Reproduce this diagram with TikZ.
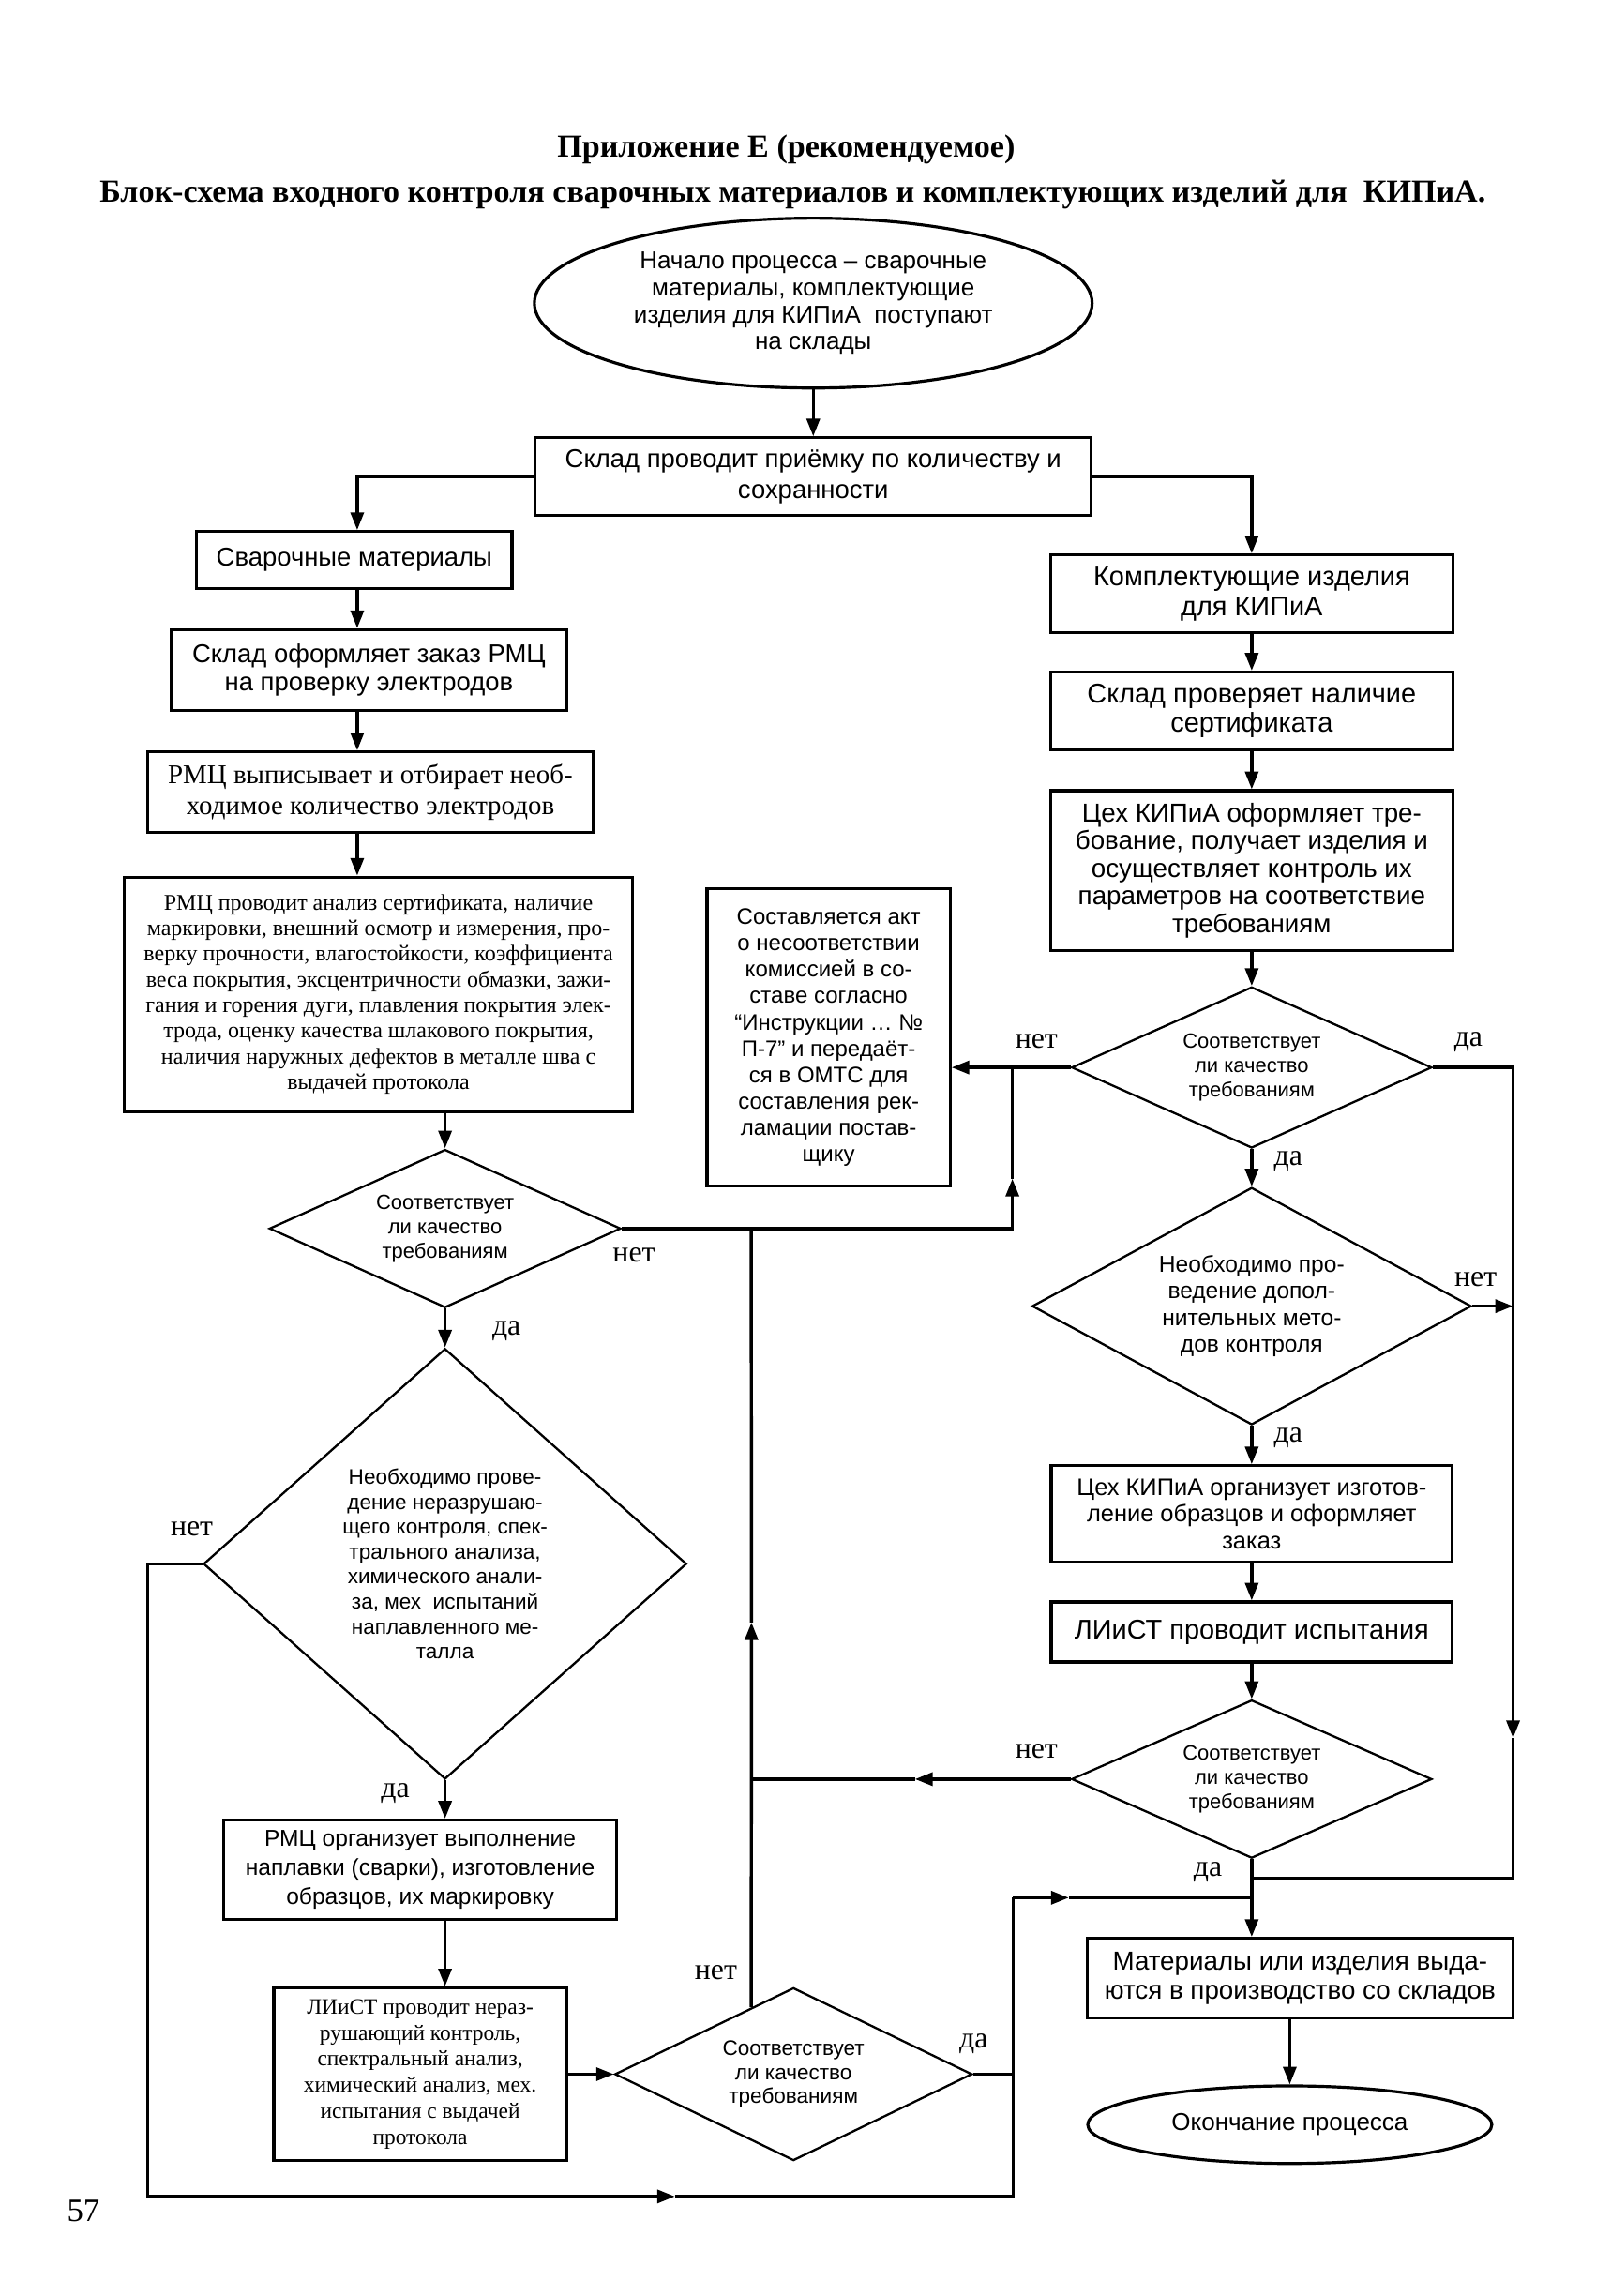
\documentclass[tikz,border=0pt]{standalone}
\usepackage{fontspec}
\setmainfont{Liberation Serif}
\newfontfamily\arialf{Liberation Sans}
\usetikzlibrary{arrows.meta,shapes.geometric,calc}
\newlength\uu
\setlength\uu{0.54pt}
\begin{document}
\begin{tikzpicture}[x=0.54pt,y=-0.54pt,
  conn/.style={line width=1.2pt},
  arr/.style={-{Triangle[length=6.5pt,width=4.8pt]}},
  box/.style={draw,line width=1.1pt,rectangle,inner sep=0pt,align=center},
  dia/.style={draw,line width=0.8pt,diamond,inner sep=0pt},
  oval/.style={draw,line width=1.1pt,ellipse,inner sep=0pt,align=center},
  sf/.style 2 args={font=\arialf\fontsize{#1}{#2}\selectfont},
  rm/.style 2 args={font=\fontsize{#1}{#2}\selectfont},
  txt/.style={align=center,inner sep=0pt},
  lbl/.style={font=\fontsize{11}{12}\selectfont,inner sep=0pt},
  ttl/.style={font=\bfseries\fontsize{11.8}{14}\selectfont,inner sep=0pt}]
\fill[white] (0,0) rectangle (1100,1568);
\useasboundingbox (0,0) rectangle (1100,1568);

% titles
\node[ttl] (t1) at (537,102) {Приложение Е (рекомендуемое)};
\node[ttl] (t2) at (541.5,133) {Блок-схема входного контроля сварочных материалов и комплектующих изделий для\ \ КИПиА.};

% top
\node[oval,minimum width=381*\uu,minimum height=116*\uu,sf={9}{10}] (S) at (555.5,207)
  {Начало процесса – сварочные\\материалы, комплектующие\\изделия для КИПиА\ \ поступают\\на склады};
\node[box,minimum width=380*\uu,minimum height=53*\uu,sf={9.5}{11.5}] (A) at (555.5,325.5)
  {Склад проводит приёмку по количеству и\\сохранности};

% left column
\node[box,minimum width=215.5*\uu,minimum height=39*\uu,sf={9.5}{11}] (B) at (242,382.5) {Сварочные материалы};
\node[box,minimum width=270*\uu,minimum height=55*\uu,sf={9.5}{10.5}] (C) at (252,457.5)
  {Склад оформляет заказ РМЦ\\на проверку электродов};
\node[box,minimum width=304*\uu,minimum height=55*\uu,rm={10}{11.5}] (D) at (253,541)
  {РМЦ выписывает и отбирает необ-\\ходимое количество электродов};
\node[box,minimum width=347*\uu,minimum height=160*\uu,rm={8.3}{9.45}] (E) at (258.5,679)
  {РМЦ проводит анализ сертификата, наличие\\маркировки, внешний осмотр и измерения, про-\\верку прочности, влагостойкости, коэффициента\\веса покрытия, эксцентричности обмазки, зажи-\\гания и горения дуги, плавления покрытия элек-\\трода, оценку качества шлакового покрытия,\\наличия наружных дефектов в металле шва с\\выдачей протокола};
\node[dia,minimum width=240*\uu,minimum height=108*\uu] (F) at (304,839) {};
\node[txt,sf={7.6}{8.9}] (Ft) at (F.center) {Соответствует\\ли качество\\требованиям};
\node[dia,minimum width=330*\uu,minimum height=294*\uu] (H) at (304,1068) {};
\node[txt,sf={7.8}{9.2}] (Ht) at (H.center) {Необходимо прове-\\дение неразрушаю-\\щего контроля, спек-\\трального анализа,\\химического анали-\\за, мех\ \ испытаний\\наплавленного ме-\\талла};
\node[box,minimum width=268*\uu,minimum height=68*\uu,sf={8.5}{10.8}] (M) at (287,1277)
  {РМЦ организует выполнение\\наплавки (сварки), изготовление\\образцов, их маркировку};
\node[box,minimum width=200*\uu,minimum height=118*\uu,rm={8.1}{9.6}] (N1) at (287,1416.5)
  {ЛИиСТ проводит нераз-\\рушающий контроль,\\спектральный анализ,\\химический анализ, мех.\\испытания с выдачей\\протокола};
\node[dia,minimum width=244*\uu,minimum height=118*\uu] (N) at (542,1416.5) {};
\node[txt,sf={7.8}{8.9}] (Nt) at (N.center) {Соответствует\\ли качество\\требованиям};

% middle box
\node[box,minimum width=166*\uu,minimum height=203*\uu,sf={8.3}{9.7}] (G) at (566,708.5)
  {Составляется акт\\о несоответствии\\комиссией в со-\\ставе согласно\\“Инструкции … №\\П-7” и передаёт-\\ся в ОМТС для\\составления рек-\\ламации постав-\\щику};

% right column
\node[box,minimum width=275*\uu,minimum height=53*\uu,sf={10}{11}] (I) at (855,405.5)
  {Комплектующие изделия\\для КИПиА};
\node[box,minimum width=275*\uu,minimum height=53*\uu,sf={10}{11}] (J) at (855,485.5)
  {Склад проверяет наличие\\сертификата};
\node[box,minimum width=275*\uu,minimum height=109*\uu,sf={9.6}{10.2}] (K1) at (855,594.5)
  {Цех КИПиА оформляет тре-\\бование, получает изделия и\\осуществляет контроль их\\параметров на соответствие\\требованиям};
\node[dia,minimum width=246*\uu,minimum height=110*\uu] (K) at (855,729) {};
\node[txt,sf={7.6}{8.9}] (Kt) at (K.center) {Соответствует\\ли качество\\требованиям};
\node[dia,minimum width=300*\uu,minimum height=162*\uu] (L) at (855,892) {};
\node[txt,sf={8.5}{9.8}] (Lt) at (L.center) {Необходимо про-\\ведение допол-\\нительных мето-\\дов контроля};
\node[box,minimum width=274*\uu,minimum height=66*\uu,sf={8.8}{9.8}] (O) at (855,1034)
  {Цех КИПиА организует изготов-\\ление образцов и оформляет\\заказ};
\node[box,minimum width=274*\uu,minimum height=41*\uu,sf={10}{11}] (Q) at (855,1114.5)
  {ЛИиСТ проводит испытания};
\node[dia,minimum width=246*\uu,minimum height=108*\uu] (P) at (855,1215) {};
\node[txt,sf={7.6}{8.9}] (Pt) at (P.center) {Соответствует\\ли качество\\требованиям};
\node[box,minimum width=290.5*\uu,minimum height=54.5*\uu,sf={9.6}{11}] (R) at (888,1351)
  {Материалы или изделия выда-\\ются в производство со складов};
\node[oval,minimum width=276*\uu,minimum height=53*\uu,sf={9}{10}] (End) at (881,1451) {Окончание процесса};

% coordinates
\coordinate (jL) at (244,325.5);
\coordinate (jR) at (855,325.5);
\coordinate (jK) at (691.5,729);
\coordinate (jF) at (691.5,839);
\coordinate (aF) at (691.5,805);
\coordinate (jMb) at ($(N.north)!0.235!(N.west)$);
\coordinate (jM) at (jMb |- F.east);
\coordinate (aM) at (513.3,1108);
\coordinate (jP) at (jMb |- P.west);
\coordinate (aP) at (625,1215);
\coordinate (rK) at (1033.5,729);
\coordinate (rL) at (1033.5,892);
\coordinate (aR) at (1033.5,1187);
\coordinate (rB) at (1033.5,1282.6);
\coordinate (jB) at (855,1282.6);
\coordinate (lH) at (101,1068);
\coordinate (lB) at (101,1500);
\coordinate (aB) at (461,1500);
\coordinate (nB) at (692,1500);
\coordinate (nT) at (692,1296);
\coordinate (aT) at (730,1296);
\coordinate (jT) at (855,1296);
\coordinate (nN) at (692,1416.5);

% connectors
\draw[conn,arr] (S.south) -- (A.north);
\draw[conn,arr] (A.west) -- (jL) -- (jL |- B.north);
\draw[conn,arr] (A.east) -- (jR) -- (I.north);
\draw[conn,arr] (B.south -| jL) -- (C.north -| jL);
\draw[conn,arr] (C.south -| jL) -- (D.north -| jL);
\draw[conn,arr] (D.south -| jL) -- (E.north -| jL);
\draw[conn,arr] (F.north |- E.south) -- (F.north);
\draw[conn,arr] (F.south) -- (H.north);
\draw[conn,arr] (H.south) -- (H.south |- M.north);
\draw[conn,arr] (H.south |- M.south) -- (H.south |- N1.north);
\draw[conn,arr] (N1.east) -- (N.west);

\draw[conn,arr] (I.south) -- (J.north);
\draw[conn,arr] (J.south) -- (K1.north);
\draw[conn,arr] (K1.south) -- (K.north);
\draw[conn,arr] (K.south) -- (L.north);
\draw[conn,arr] (L.south) -- (O.north);
\draw[conn,arr] (O.south) -- (Q.north);
\draw[conn,arr] (Q.south) -- (P.north);
\draw[conn,arr] (P.south) -- (P.south |- R.north);
\draw[conn,arr] (End.north |- R.south) -- (End.north);

\draw[conn,arr] (K.west) -- (G.east |- K.west);
\draw[conn,arr] (F.east) -- (jF) -- (aF);
\draw[conn] (aF) -- (jK);
\draw[conn,arr] (jMb) -- (aM);
\draw[conn] (aM) -- (jM);
\draw[conn,arr] (P.west) -- (aP);
\draw[conn] (aP) -- (jP);

\draw[conn,arr] (K.east) -- (rK) -- (aR);
\draw[conn] (aR) -- (rB) -- (jB);
\draw[conn,arr] (L.east) -- (rL);

\draw[conn,arr] (H.west) -- (lH) -- (lB) -- (aB);
\draw[conn] (aB) -- (nB) -- (nT);
\draw[conn,arr] (nT) -- (aT);
\draw[conn] (aT) -- (jT);
\draw[conn] (N.east) -- (nN);

% labels
\node[lbl] (l1) at (433,857) {нет};
\node[lbl] (l2) at (346,909) {да};
\node[lbl] (l3) at (131,1044) {нет};
\node[lbl] (l4) at (270,1225) {да};
\node[lbl] (l5) at (489,1347) {нет};
\node[lbl] (l6) at (665,1396) {да};
\node[lbl] (l7) at (708,711) {нет};
\node[lbl] (l8) at (1003,712) {да};
\node[lbl] (l9) at (880,793) {да};
\node[lbl] (l10) at (1008,874) {нет};
\node[lbl] (l11) at (880,982) {да};
\node[lbl] (l12) at (708,1196) {нет};
\node[lbl] (l13) at (825,1278.5) {да};
\node[font=\fontsize{12}{14}\selectfont,inner sep=0pt] (pg) at (57,1510) {57};
\end{tikzpicture}
\end{document}
